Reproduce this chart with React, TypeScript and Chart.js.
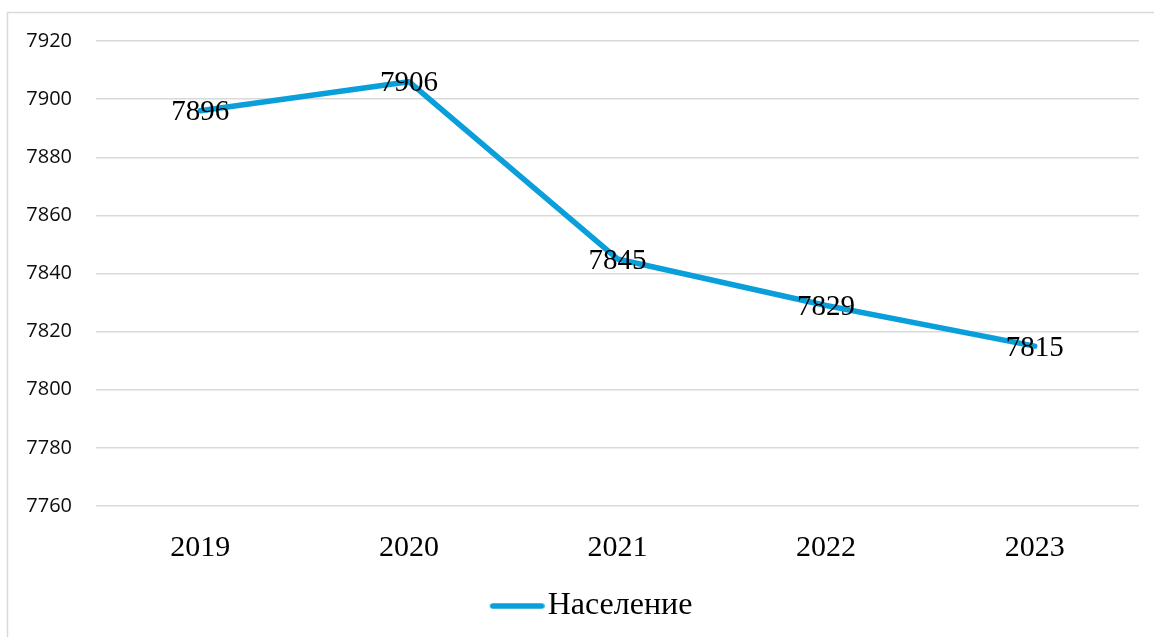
import React, { useEffect, useRef } from "react";
import { Chart, registerables } from "chart.js";

Chart.register(...registerables);

const categories = ["2019", "2020", "2021", "2022", "2023"];
const population = [7896, 7906, 7845, 7829, 7815];
const seriesLabel = "Население";
const yMin = 7760;
const yMax = 7920;
const yStep = 20;

const LINE_COLOR = "#0a9fda";
const SERIF = "'Liberation Serif', 'Times New Roman', serif";
const SANS = "'Open Sans', 'Noto Sans', sans-serif";

function makeLegendSwatch(): HTMLCanvasElement {
  // Image is centred on the legend box; the line sits in its right part so it
  // reaches close to the label text, as in the reference.
  const c = document.createElement("canvas");
  c.width = 111;
  c.height = 10;
  const g = c.getContext("2d")!;
  g.strokeStyle = LINE_COLOR;
  g.lineWidth = 5.5;
  g.lineCap = "round";
  g.beginPath();
  g.moveTo(59, 5);
  g.lineTo(108, 5);
  g.stroke();
  return c;
}

const frameAndLabels = {
  id: "frameAndLabels",
  beforeDraw(chart: any) {
    const ctx = chart.ctx;
    ctx.save();
    ctx.strokeStyle = "#d9d9d9";
    ctx.lineWidth = 1.5;
    ctx.beginPath();
    ctx.moveTo(7.5, chart.height + 5);
    ctx.lineTo(7.5, 12.5);
    ctx.lineTo(chart.width + 5, 12.5);
    ctx.stroke();
    ctx.restore();
  },
  afterDatasetsDraw(chart: any) {
    const ctx = chart.ctx;
    const meta = chart.getDatasetMeta(0);
    const values = chart.data.datasets[0].data;
    ctx.save();
    ctx.font = `29px ${SERIF}`;
    ctx.fillStyle = "#000000";
    ctx.textAlign = "center";
    ctx.textBaseline = "middle";
    meta.data.forEach((pt: any, i: number) => {
      ctx.fillText(String(values[i]), pt.x, pt.y + 2);
    });
    ctx.restore();
  },
};

export default function App() {
  const ref = useRef<HTMLCanvasElement | null>(null);

  useEffect(() => {
    if (!ref.current) return;
    const swatch = makeLegendSwatch();
    const chart = new Chart(ref.current, {
      type: "line",
      data: {
        labels: categories,
        datasets: [
          {
            label: seriesLabel,
            data: population,
            borderColor: LINE_COLOR,
            backgroundColor: LINE_COLOR,
            borderWidth: 5.5,
            borderCapStyle: "round",
            borderJoinStyle: "round",
            pointRadius: 0,
            pointHoverRadius: 0,
            tension: 0,
          },
        ],
      },
      options: {
        responsive: false,
        animation: false,
        devicePixelRatio: 1,
        layout: { padding: { top: 41, right: 15, left: 0, bottom: 5 } },
        plugins: {
          tooltip: { enabled: false },
          legend: {
            position: "bottom",
            labels: {
              usePointStyle: true,
              pointStyle: swatch as any,
              pointStyleWidth: 85,
              color: "#000000",
              font: { family: SERIF, size: 32 },
              padding: 10,
            },
          },
        },
        scales: {
          x: {
            offset: true,
            grid: { display: false, drawTicks: false },
            border: { display: false },
            ticks: {
              color: "#000000",
              font: { family: SERIF, size: 30 },
              padding: 24,
              maxRotation: 0,
            },
            afterFit(scale: any) {
              scale.height = 74;
            },
          },
          y: {
            min: yMin,
            max: yMax,
            grid: { color: "#d9d9d9", lineWidth: 1.5, drawTicks: false },
            border: { display: false },
            ticks: {
              stepSize: yStep,
              color: "#0d0d0d",
              font: { family: SANS, size: 20 },
              padding: 24,
              callback: (v: any) => String(v),
            },
            afterFit(scale: any) {
              scale.width = 96;
            },
          },
        },
      },
      plugins: [frameAndLabels],
    });
    return () => chart.destroy();
  }, []);

  return (
    <div style={{ position: "fixed", left: 0, top: 0, width: 1154, height: 637, background: "#ffffff" }}>
      <canvas ref={ref} width={1154} height={637} style={{ width: 1154, height: 637, display: "block" }} />
    </div>
  );
}
